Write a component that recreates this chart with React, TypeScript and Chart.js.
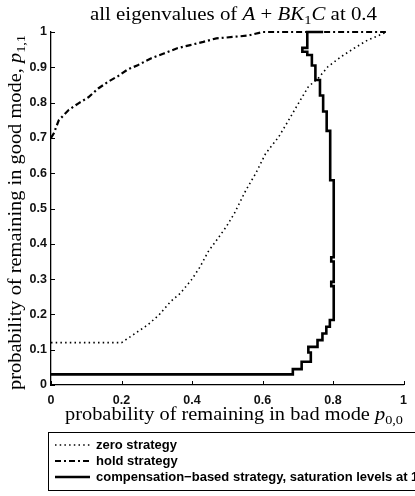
import React, { useEffect, useRef } from "react";
import { Chart, registerables } from "chart.js";

Chart.register(...registerables);

const xTickValues = [0, 0.2, 0.4, 0.6, 0.8, 1];
const xTickLabels = ["0", "0.2", "0.4", "0.6", "0.8", "1"];
const yTickValues = [0, 0.1, 0.2, 0.3, 0.4, 0.5, 0.6, 0.7, 0.8, 0.9, 1];
const yTickLabels = ["0", "0.1", "0.2", "0.3", "0.4", "0.5", "0.6", "0.7", "0.8", "0.9", "1"];

const seriesNames = [
  "zero strategy",
  "hold strategy",
  "compensation\u2212based strategy, saturation levels at 1",
];

const zeroX = [0, 0.2, 0.246, 0.274, 0.306, 0.339, 0.367, 0.4, 0.423, 0.446, 0.474, 0.497, 0.52, 0.553, 0.581, 0.609, 0.646, 0.674, 0.702, 0.73, 0.758, 0.786, 0.823, 0.86, 0.898, 0.953];
const zeroY = [0.12, 0.12, 0.151, 0.17, 0.198, 0.236, 0.26, 0.3, 0.335, 0.378, 0.416, 0.448, 0.486, 0.552, 0.6, 0.656, 0.703, 0.75, 0.798, 0.845, 0.869, 0.902, 0.93, 0.954, 0.977, 1.0];

const holdX = [0, 0.008, 0.022, 0.05, 0.078, 0.106, 0.134, 0.162, 0.19, 0.218, 0.246, 0.283, 0.32, 0.358, 0.395, 0.432, 0.469, 0.516, 0.56, 0.6, 0.95];
const holdY = [0.7, 0.713, 0.75, 0.779, 0.798, 0.815, 0.84, 0.859, 0.875, 0.894, 0.906, 0.925, 0.939, 0.954, 0.963, 0.972, 0.982, 0.986, 0.99, 1.0, 1.0];

const compX = [0, 0.686, 0.686, 0.711, 0.711, 0.737, 0.737, 0.73, 0.73, 0.756, 0.756, 0.77, 0.77, 0.781, 0.781, 0.791, 0.791, 0.802, 0.802, 0.795, 0.795, 0.802, 0.802, 0.795, 0.795, 0.802, 0.802, 0.792, 0.792, 0.782, 0.782, 0.772, 0.772, 0.763, 0.763, 0.75, 0.75, 0.74, 0.74, 0.727, 0.727, 0.713, 0.713, 0.727, 0.727, 0.772];
const compY = [0.03, 0.03, 0.045, 0.045, 0.066, 0.066, 0.092, 0.092, 0.108, 0.108, 0.127, 0.127, 0.146, 0.146, 0.165, 0.165, 0.184, 0.184, 0.28, 0.28, 0.292, 0.292, 0.35, 0.35, 0.362, 0.362, 0.58, 0.58, 0.72, 0.72, 0.775, 0.775, 0.82, 0.82, 0.864, 0.864, 0.905, 0.905, 0.935, 0.935, 0.944, 0.944, 0.955, 0.955, 1.0, 1.0];

type Seg = [string, "r" | "i" | "s"];
const titleSegs: Seg[] = [["all eigenvalues of ", "r"], ["A", "i"], [" + ", "r"], ["BK", "i"], ["1", "s"], ["C", "i"], [" at 0.4", "r"]];
const xTitleSegs: Seg[] = [["probability of remaining in bad mode ", "r"], ["p", "i"], ["0,0", "s"]];
const yTitleSegs: Seg[] = [["probability of remaining in good mode, ", "r"], ["p", "i"], ["1,1", "s"]];

const SERIF = '"Liberation Serif", "DejaVu Serif", serif';
const SANS = '"Liberation Sans", Arial, sans-serif';

function segFont(kind: string, size: number) {
  if (kind === "i") return `italic ${size}px ${SERIF}`;
  if (kind === "s") return `${(size * 0.7).toFixed(2)}px ${SERIF}`;
  return `${size}px ${SERIF}`;
}
function measureSegs(ctx: CanvasRenderingContext2D, segs: Seg[], size: number) {
  let w = 0;
  for (const [t, k] of segs) {
    ctx.font = segFont(k, size);
    w += ctx.measureText(t).width;
  }
  return w;
}
// draws text at a given font size, stretched horizontally to span the target width
function drawSegsFit(ctx: CanvasRenderingContext2D, segs: Seg[], size: number, target: number, cx: number, baseline: number) {
  const w = measureSegs(ctx, segs, size);
  const sx = target / w;
  ctx.save();
  ctx.translate(cx - target / 2, baseline);
  ctx.scale(sx, 1);
  let x = 0;
  ctx.textAlign = "left";
  ctx.textBaseline = "alphabetic";
  for (const [t, k] of segs) {
    ctx.font = segFont(k, size);
    ctx.fillText(t, x, k === "s" ? size * 0.22 : 0);
    x += ctx.measureText(t).width;
  }
  ctx.restore();
}

const styles = [
  { width: 1.6, dash: [1.5, 3.2] },
  { width: 2.2, dash: [6, 3, 2, 3] },
  { width: 2.6, dash: [] as number[] },
];

const decor = {
  id: "decor",
  afterDraw(chart: any) {
    const { ctx, chartArea: ca, scales } = chart;
    ctx.save();
    ctx.strokeStyle = "#000";
    ctx.fillStyle = "#000";
    ctx.lineWidth = 1;
    ctx.setLineDash([]);
    for (const v of xTickValues) {
      const px = Math.round(scales.x.getPixelForValue(v)) + 0.5;
      ctx.beginPath();
      ctx.moveTo(px, ca.bottom);
      ctx.lineTo(px, ca.bottom - 4);
      ctx.stroke();
    }
    for (const v of yTickValues) {
      const py = Math.round(scales.y.getPixelForValue(v)) + 0.5;
      ctx.beginPath();
      ctx.moveTo(ca.left, py);
      ctx.lineTo(ca.left + 4, py);
      ctx.stroke();
    }
    drawSegsFit(ctx, titleSegs, 18, 287, 233.5, 20);
    drawSegsFit(ctx, xTitleSegs, 18, 338, 234, 420);
    ctx.save();
    ctx.translate(21, 212.5);
    ctx.rotate(-Math.PI / 2);
    drawSegsFit(ctx, yTitleSegs, 18, 355, 0, 0);
    ctx.restore();
    // legend
    ctx.lineWidth = 1;
    ctx.setLineDash([]);
    ctx.strokeRect(48.5, 432.5, 400, 58);
    const rows = [445, 461, 477];
    ctx.font = `bold 13px ${SANS}`;
    ctx.textAlign = "left";
    ctx.textBaseline = "middle";
    rows.forEach((ry, i) => {
      ctx.save();
      ctx.lineWidth = styles[i].width;
      ctx.setLineDash(styles[i].dash);
      ctx.beginPath();
      ctx.moveTo(55, ry);
      ctx.lineTo(90, ry);
      ctx.stroke();
      ctx.restore();
      ctx.fillText(seriesNames[i], 96, ry + 0.5);
    });
    ctx.restore();
  },
};

const toPts = (xs: number[], ys: number[]) => xs.map((x, i) => ({ x, y: ys[i] }));

export default function App() {
  const ref = useRef<HTMLCanvasElement | null>(null);
  useEffect(() => {
    document.body.style.margin = "0";
    const canvas = ref.current!;
    const mk = (label: string, xs: number[], ys: number[], i: number) => ({
      label,
      data: toPts(xs, ys),
      showLine: true,
      borderColor: "#000",
      backgroundColor: "#000",
      borderWidth: styles[i].width,
      borderDash: styles[i].dash,
      pointRadius: 0,
      fill: false,
      tension: 0,
      clip: false,
    });
    const chart = new Chart(canvas, {
      type: "scatter",
      data: {
        datasets: [
          mk(seriesNames[0], zeroX, zeroY, 0),
          mk(seriesNames[1], holdX, holdY, 1),
          mk(seriesNames[2], compX, compY, 2),
        ] as any,
      },
      options: {
        animation: false,
        responsive: true,
        maintainAspectRatio: false,
        layout: { padding: { top: 32, right: 5, left: 0, bottom: 0 } },
        plugins: { legend: { display: false }, tooltip: { enabled: false }, title: { display: false } },
        scales: {
          x: {
            type: "linear",
            min: 0,
            max: 1,
            afterFit: (s: any) => { s.height = 111; },
            afterBuildTicks: (s: any) => { s.ticks = xTickValues.map((v) => ({ value: v })); },
            grid: { display: true, drawOnChartArea: false, drawTicks: false },
            border: { display: true, color: "#000", width: 1.3 },
            ticks: {
              padding: 8,
              color: "#111",
              font: { family: SANS, size: 12.5, weight: "bold" },
              maxRotation: 0,
              callback: (_v: any, i: number) => xTickLabels[i],
            },
          },
          y: {
            type: "linear",
            min: 0,
            max: 1,
            afterFit: (s: any) => { s.width = 51; },
            afterBuildTicks: (s: any) => { s.ticks = yTickValues.map((v) => ({ value: v })); },
            grid: { display: true, drawOnChartArea: false, drawTicks: false },
            border: { display: true, color: "#000", width: 1.3 },
            ticks: {
              padding: 4,
              color: "#111",
              font: { family: SANS, size: 12.5, weight: "bold" },
              callback: (_v: any, i: number) => yTickLabels[i],
            },
          },
        },
      } as any,
      plugins: [decor],
    });
    return () => chart.destroy();
  }, []);
  return (
    <div style={{ position: "fixed", left: 0, top: 0, width: 415, height: 496, background: "#fff", overflow: "hidden" }}>
      <canvas ref={ref} />
    </div>
  );
}
